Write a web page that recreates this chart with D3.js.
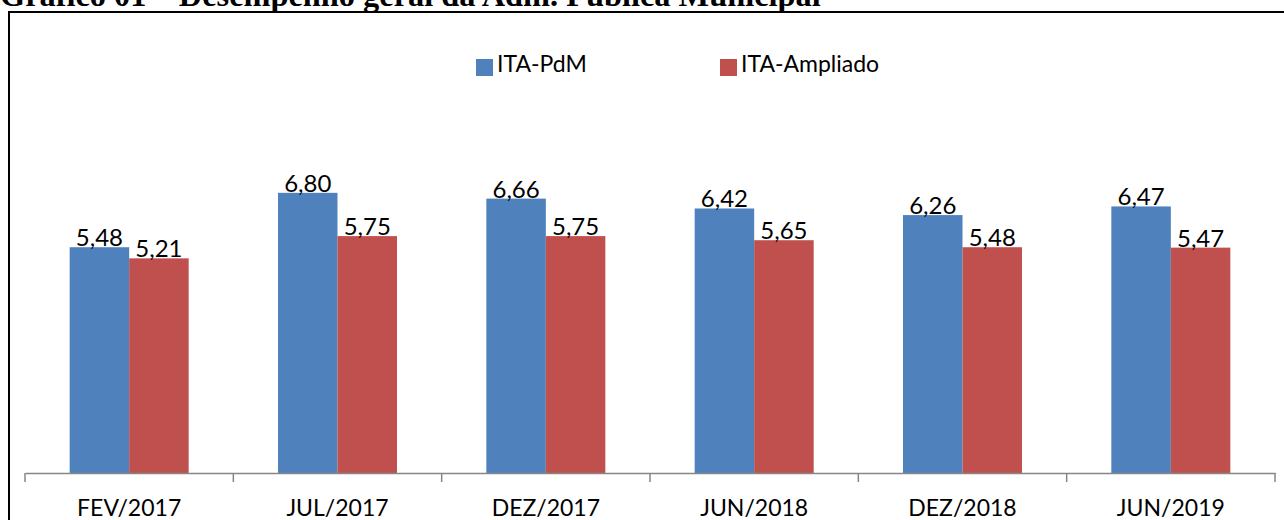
<!DOCTYPE html>
<html><head><meta charset="utf-8">
<script src="https://cdn.jsdelivr.net/npm/d3@7"></script>
<style>html,body{margin:0;padding:0;background:#fff;overflow:hidden}</style>
</head><body>
<svg id="c" width="1284" height="520"></svg>
<script>
const categories = ["FEV/2017","JUL/2017","DEZ/2017","JUN/2018","DEZ/2018","JUN/2019"];
const seriesNames = ["ITA-PdM","ITA-Ampliado"];
const itaPdM = [5.48, 6.80, 6.66, 6.42, 6.26, 6.47];
const itaAmpliado = [5.21, 5.75, 5.75, 5.65, 5.48, 5.47];
const colors = ["#4F81BD","#C0504D"];
const titleText = "Gráfico 01 – Desempenho geral da Adm. Pública Municipal";

const svg = d3.select("#c");
const fmt = v => v.toFixed(2).replace(".", ",");

// frame
svg.append("rect").attr("x",9).attr("y",12).attr("width",1300).attr("height",530)
  .attr("fill","none").attr("stroke","#000").attr("stroke-width",2);

// title (clipped at top, as in the reference)
const title = svg.append("text").attr("x",0).attr("y",6)
  .attr("font-family","'Liberation Serif','Times New Roman',serif")
  .attr("font-weight","bold").attr("font-size",30).attr("fill","#000").text(titleText);
const tw = title.node().getComputedTextLength();
title.attr("font-size", 30*821/tw);

const x0 = d3.scaleBand().domain(categories).range([25,1275]).paddingInner(0).paddingOuter(0);
const x1 = d3.scaleBand().domain(seriesNames).range([0, 119]);
const y = d3.scaleLinear().domain([0,10]).range([473, 61]);

const data = categories.map((c,i)=>({cat:c, vals:[itaPdM[i], itaAmpliado[i]]}));

const groups = svg.append("g").selectAll("g").data(data).join("g")
  .attr("transform", d => `translate(${x0(d.cat) + (x0.bandwidth()-119)/2},0)`);

groups.selectAll("rect").data(d => d.vals.map((v,j)=>({v, s:seriesNames[j], j})))
  .join("rect")
  .attr("x", d => x1(d.s)).attr("width", x1.bandwidth())
  .attr("y", d => y(d.v)).attr("height", d => y(0)-y(d.v))
  .attr("fill", d => colors[d.j]);

groups.selectAll("text").data(d => d.vals.map((v,j)=>({v, s:seriesNames[j], j})))
  .join("text")
  .attr("x", d => x1(d.s) + x1.bandwidth()/2)
  .attr("y", d => y(d.v) - 1)
  .attr("text-anchor","middle")
  .attr("font-family","Lato, 'Open Sans', sans-serif").attr("font-size",24)
  .attr("fill","#000").text(d => fmt(d.v));

// axis
const axis = d3.axisBottom(x0).tickSize(0).tickPadding(0).tickSizeOuter(0);
const ag = svg.append("g").attr("transform","translate(0,473)").call(axis);
ag.select(".domain").attr("stroke","#868686").attr("stroke-width",1.5);
ag.selectAll(".tick line").remove();
ag.selectAll(".tick text").attr("dy",0).attr("y",43)
  .attr("font-family","Lato, 'Open Sans', sans-serif").attr("font-size",23).attr("fill","#000");
// category boundary ticks
const bounds = categories.map(c => x0(c)).concat([x0(categories[categories.length-1]) + x0.bandwidth()]);
ag.selectAll("line.bt").data(bounds).join("line").attr("class","bt")
  .attr("x1", d=>d).attr("x2", d=>d).attr("y1",0).attr("y2",9)
  .attr("stroke","#868686").attr("stroke-width",1.5);

// legend
const legX = [476, 720];
const lg = svg.append("g").selectAll("g").data(seriesNames).join("g")
  .attr("transform",(d,i)=>`translate(${legX[i]},0)`);
lg.append("rect").attr("x",0).attr("y",59).attr("width",17).attr("height",17)
  .attr("fill",(d,i)=>colors[i]);
lg.append("text").attr("x",21).attr("y",72)
  .attr("font-family","Lato, 'Open Sans', sans-serif").attr("font-size",23).attr("fill","#000")
  .text(d=>d);
</script>
</body></html>
